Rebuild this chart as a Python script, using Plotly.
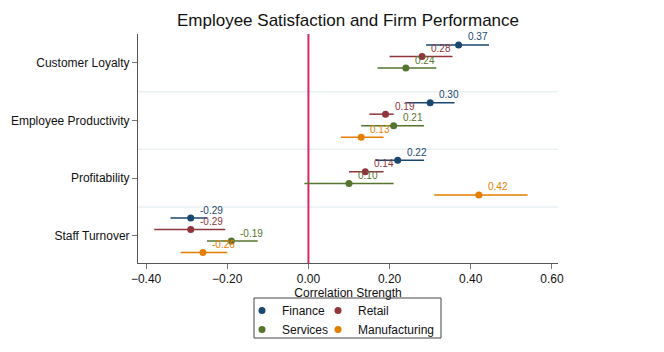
import plotly.graph_objects as go

categories = ["Customer Loyalty", "Employee Productivity", "Profitability", "Staff Turnover"]
series = ["Finance", "Retail", "Services", "Manufacturing"]

finance = [0.37, 0.30, 0.22, -0.29]
finance_lo = [0.29, 0.24, 0.165, -0.34]
finance_hi = [0.445, 0.36, 0.285, -0.25]

retail = [0.28, 0.19, 0.14, -0.29]
retail_lo = [0.20, 0.15, 0.10, -0.38]
retail_hi = [0.355, 0.21, 0.185, -0.205]

services = [0.24, 0.21, 0.10, -0.19]
services_lo = [0.17, 0.13, -0.01, -0.25]
services_hi = [0.315, 0.285, 0.21, -0.125]

manufacturing = [None, 0.13, 0.42, -0.26]
manufacturing_lo = [None, 0.08, 0.31, -0.315]
manufacturing_hi = [None, 0.185, 0.54, -0.20]

colors = ["#1a476f", "#90353b", "#55752f", "#e37e00"]
offsets = [-0.31, -0.11, 0.09, 0.29]
legend_ids = ["legend", "legend2", "legend", "legend2"]

data = [
    (finance, finance_lo, finance_hi),
    (retail, retail_lo, retail_hi),
    (services, services_lo, services_hi),
    (manufacturing, manufacturing_lo, manufacturing_hi),
]

FONT = "Arial, Liberation Sans, sans-serif"

fig = go.Figure()
for name, (vals, lo, hi), col, off, lg in zip(series, data, colors, offsets, legend_ids):
    xs, ys, ep, em = [], [], [], []
    for i, (v, l, h) in enumerate(zip(vals, lo, hi)):
        if v is None:
            continue
        xs.append(v)
        ys.append(i + off)
        ep.append(h - v)
        em.append(v - l)
        fig.add_annotation(x=v, y=i + off, xref="x", yref="y", text=f"{v:.2f}",
                           showarrow=False, xanchor="left", yanchor="middle",
                           xshift=7, yshift=8,
                           font=dict(family=FONT, size=10, color=col))
    fig.add_trace(go.Scatter(
        x=xs, y=ys, mode="markers", name=name,
        marker=dict(color=col, size=7),
        error_x=dict(type="data", symmetric=False, array=ep, arrayminus=em,
                     color=col, thickness=1.5, width=0),
        legend=lg,
    ))

# gridlines between categories
for b in [0.5, 1.5, 2.5]:
    fig.add_shape(type="line", xref="paper", yref="y", x0=0, x1=1, y0=b, y1=b,
                  line=dict(color="#eaf2f3", width=1.5), layer="below")
# zero reference line
fig.add_shape(type="line", xref="x", yref="paper", x0=0, x1=0, y0=0, y1=1,
              line=dict(color="#d9285e", width=2), layer="below")
# legend frame
fig.add_shape(type="rect", xref="paper", yref="paper",
              x0=(254 - 138) / 420, x1=(441 - 138) / 420,
              y0=-(338 - 263) / 229, y1=-(298 - 263) / 229,
              line=dict(color="#444444", width=1), fillcolor="rgba(0,0,0,0)")

fig.update_layout(
    width=664, height=352,
    margin=dict(l=138, r=106, t=34, b=89, autoexpand=False),
    paper_bgcolor="white", plot_bgcolor="white",
    font=dict(family=FONT, size=12, color="#111111"),
    title=dict(text="Employee Satisfaction and Firm Performance",
               x=348 / 664, xanchor="center", y=1 - 20 / 352, yanchor="middle",
               font=dict(family=FONT, size=17, color="#111111")),
    xaxis=dict(range=[-0.42, 0.615], tickvals=[-0.4, -0.2, 0, 0.2, 0.4, 0.6],
               tickformat=".2f", showgrid=False, zeroline=False,
               showline=True, linecolor="#555555", linewidth=1,
               ticks="outside", ticklen=5, tickcolor="#777777",
               tickfont=dict(size=12, color="#111111"),
               title=dict(text="Correlation Strength", standoff=0,
                          font=dict(size=12, color="#111111"))),
    yaxis=dict(range=[3.47, -0.5], tickvals=[0, 1, 2, 3], ticktext=categories,
               showgrid=False, zeroline=False,
               showline=True, linecolor="#555555", linewidth=1,
               ticks="outside", ticklen=5, tickcolor="#777777",
               tickfont=dict(size=12, color="#111111")),
    legend=dict(xref="paper", yref="paper", x=(242 - 138) / 420, y=-(296 - 263) / 229,
                xanchor="left", yanchor="top", bgcolor="rgba(0,0,0,0)",
                font=dict(size=12, color="#111111"), tracegroupgap=0,
                itemwidth=30),
    legend2=dict(xref="paper", yref="paper", x=(318 - 138) / 420, y=-(296 - 263) / 229,
                 xanchor="left", yanchor="top", bgcolor="rgba(0,0,0,0)",
                 font=dict(size=12, color="#111111"), tracegroupgap=0,
                 itemwidth=30),
    showlegend=True,
)

fig.write_html("out.html")
